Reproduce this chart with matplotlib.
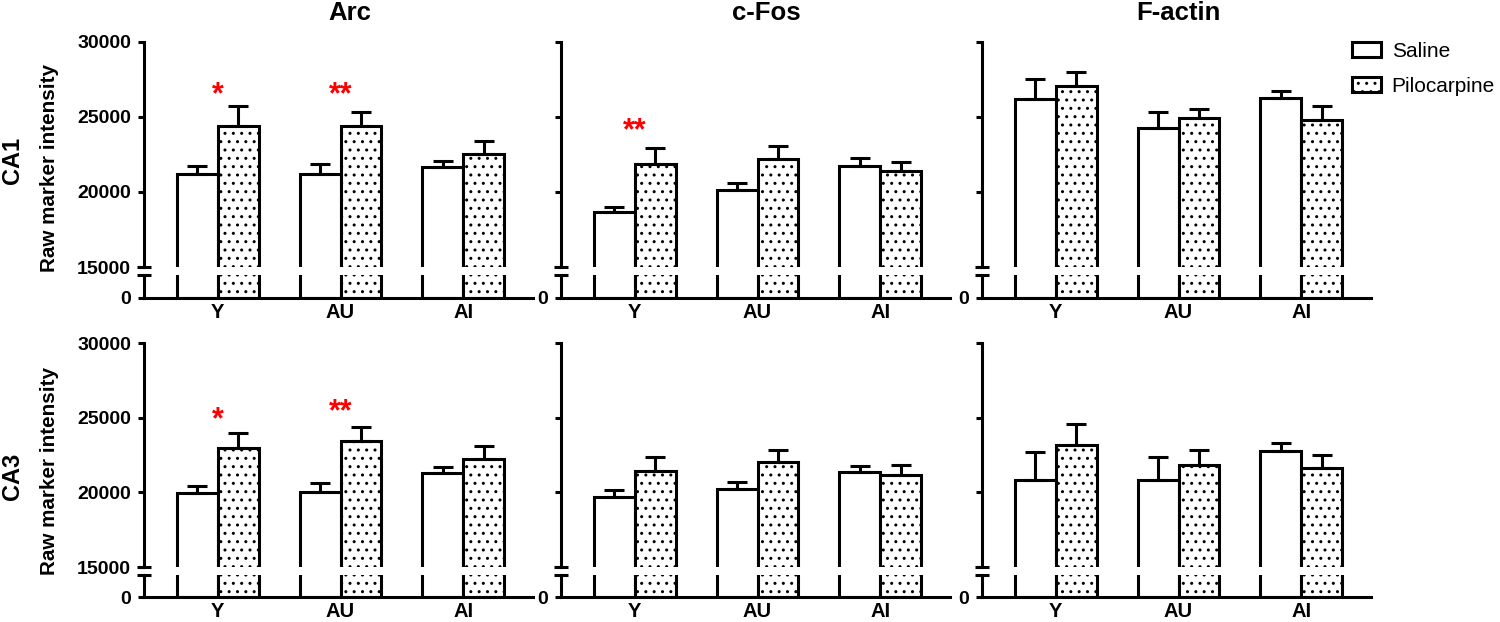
import numpy as np
import matplotlib
matplotlib.use('Agg')
import matplotlib.pyplot as plt
from matplotlib.patches import Patch

plt.rcParams['font.family'] = ['Liberation Sans', 'DejaVu Sans']
plt.rcParams['hatch.linewidth'] = 1.0

# ---------------------------------------------------------------------------
# data: rows = region, inner lists = marker, values = group
# ---------------------------------------------------------------------------
markers = ['Arc', 'c-Fos', 'F-actin']
regions = ['CA1', 'CA3']
groups = ['Y', 'AU', 'AI']
conditions = ['Saline', 'Pilocarpine']

saline_mean = [
    [[21200, 21200, 21640], [18690, 20130, 21750], [26200, 24250, 26290]],   # CA1
    [[19930, 20040, 21320], [19670, 20200, 21380], [20830, 20830, 22790]],   # CA3
]
saline_sem = [
    [[530, 650, 450], [290, 450, 500], [1310, 1100, 460]],
    [[490, 610, 400], [490, 470, 400], [1870, 1560, 490]],
]
pilo_mean = [
    [[24420, 24420, 22510], [21870, 22200, 21400], [27070, 24950, 24800]],
    [[22990, 23460, 22210], [21450, 22050, 21160], [23170, 21830, 21610]],
]
pilo_sem = [
    [[1310, 890, 890], [1080, 870, 620], [930, 560, 930]],
    [[1000, 940, 890], [940, 780, 670], [1380, 1000, 890]],
]

# significance marks: (region, marker, group, text, height)
stars = [
    (0, 0, 0, '*', 25900),
    (0, 0, 1, '**', 25900),
    (0, 1, 0, '**', 23500),
    (1, 0, 0, '*', 24300),
    (1, 0, 1, '**', 24850),
]

y_ticks = [15000, 20000, 25000, 30000]

# ---------------------------------------------------------------------------
# layout (pixels of the 1500x622 canvas)
# ---------------------------------------------------------------------------
W, H = 1500, 622
col_left = [144, 561, 982]
col_width = 389
# (top-axes top, top-axes bottom, bottom-axes top, bottom-axes bottom)
row_y = [(42, 267, 275, 298), (343, 567, 575, 597)]
LW = 2.2
FS = 14


def fbox(x0, y0, x1, y1):
    return [x0 / W, 1 - y1 / H, (x1 - x0) / W, (y1 - y0) / H]


fig = plt.figure(figsize=(W / 100, H / 100), dpi=100)
x = np.arange(len(groups)) * 3.0

for r in range(len(regions)):
    yt0, yt1, yb0, yb1 = row_y[r]
    for m in range(len(markers)):
        xl = col_left[m]
        ax_t = fig.add_axes(fbox(xl, yt0, xl + col_width, yt1))
        ax_b = fig.add_axes(fbox(xl, yb0, xl + col_width, yb1))
        sal = np.array(saline_mean[r][m])
        pil = np.array(pilo_mean[r][m])

        for ax in (ax_t, ax_b):
            ax.bar(x - 0.5, sal, width=1, color='white', edgecolor='black', lw=LW)
            ax.bar(x + 0.5, pil, width=1, color='white', edgecolor='black', lw=LW, hatch='..')
            ax.set_xlim(-1.8, 7.7)
            ax.patch.set_alpha(0)
            for s in ('top', 'right'):
                ax.spines[s].set_visible(False)
            for s in ('left', 'bottom'):
                ax.spines[s].set_linewidth(LW)
            ax.tick_params(axis='y', length=4.3, width=LW, pad=5, labelsize=FS)

        ax_t.errorbar(x - 0.5, sal, yerr=[np.zeros(3), saline_sem[r][m]], fmt='none',
                      ecolor='black', elinewidth=LW, capsize=7.5, capthick=LW)
        ax_t.errorbar(x + 0.5, pil, yerr=[np.zeros(3), pilo_sem[r][m]], fmt='none',
                      ecolor='black', elinewidth=LW, capsize=7.5, capthick=LW)

        # upper segment
        ax_t.spines['bottom'].set_visible(False)
        ax_t.set_ylim(y_ticks[0], y_ticks[-1])
        ax_t.set_yticks(y_ticks)
        if m == 0:
            ax_t.set_yticklabels([str(v) for v in y_ticks], fontweight='bold')
        else:
            ax_t.set_yticklabels([])
        ax_t.set_xticks([])

        # lower segment
        ax_b.set_ylim(0, 1000)
        ax_b.set_yticks([0])
        ax_b.set_yticklabels(['0'], fontweight='bold')
        ax_b.set_xticks(x)
        ax_b.set_xticklabels(groups, fontweight='bold')
        ax_b.tick_params(axis='x', length=0, pad=3.5, labelsize=14.5)

        # axis break marks
        ax_t.plot([-0.018, 0.018], [0, 0], transform=ax_t.transAxes, color='black',
                  lw=LW, clip_on=False, solid_capstyle='butt')
        ax_b.plot([-0.018, 0.018], [1, 1], transform=ax_b.transAxes, color='black',
                  lw=LW, clip_on=False, solid_capstyle='butt')

        for (sr, sm, g, txt, h) in stars:
            if sr == r and sm == m:
                ax_t.text(x[g], h, txt, color='#ff0000', ha='center', va='baseline',
                          fontsize=22, fontweight='bold')

# column titles
title_x = [350, 766, 1178]
for m, name in enumerate(markers):
    fig.text(title_x[m] / W, 1 - 20 / H, name, ha='center', va='baseline',
             fontsize=18.5, fontweight='bold')

# row labels
row_lab_y = [160, 476]
ylab_y = [168, 471]
for r, name in enumerate(regions):
    fig.text(12 / W, 1 - row_lab_y[r] / H, name, rotation=90, ha='center', va='center',
             fontsize=17, fontweight='bold')
    fig.text(50 / W, 1 - ylab_y[r] / H, 'Raw marker intensity', rotation=90,
             ha='center', va='center', fontsize=14.9, fontweight='bold')

handles = [Patch(facecolor='white', edgecolor='black', lw=LW),
           Patch(facecolor='white', edgecolor='black', lw=LW, hatch='..')]
fig.legend(handles, conditions, loc='upper left', bbox_to_anchor=(1352 / W, 1 - 42 / H),
           frameon=False, fontsize=15, handlelength=1.4, handleheight=0.7,
           handletextpad=0.5, labelspacing=0.75, borderaxespad=0, borderpad=0)

fig.savefig('out.png', dpi=100)
